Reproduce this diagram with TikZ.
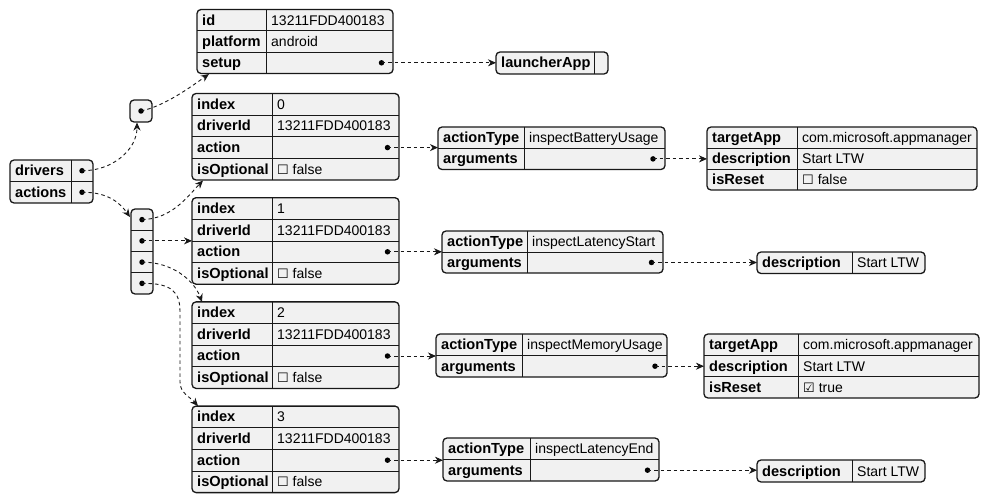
\documentclass[tikz,border=0pt]{standalone}
\usepackage{fontspec}
\setmainfont{Liberation Sans}
\newfontfamily\symfont{DejaVu Sans}
\usetikzlibrary{arrows.meta}

\definecolor{jfill}{HTML}{F1F1F1}
\definecolor{jline}{HTML}{181818}

\newcommand\boxoff{{\symfont\fontsize{13}{15}\selectfont\char"2610}}
\newcommand\boxon{{\symfont\fontsize{13}{15}\selectfont\char"2611}}

\tikzset{
  tbl/.style={draw=jline, fill=jfill, line width=1.3pt, rounded corners=4pt, inner sep=0pt, outer sep=0pt},
  sep/.style={draw=jline, line width=0.8pt},
  keytxt/.style={anchor=base west, inner sep=0pt, font=\fontsize{14.6}{16}\selectfont\bfseries, text=black},
  valtxt/.style={anchor=base west, inner sep=0pt, font=\fontsize{14}{16}\selectfont, text=black},
  pip/.style={circle, fill=black, inner sep=0pt, minimum size=5.5pt},
  link/.style={draw=jline, line width=0.9pt, dash pattern=on 3.5pt off 3pt,
    -{Stealth[length=8pt,width=7pt,inset=2.5pt]}},
}

% key/value table: name, left, top, column, right, bottom, rows, key/value list
\newcommand\jtab[8]{%
  \node[tbl, anchor=north west, minimum width={#5-#2}, minimum height={#6-#3}] (#1) at (#2,#3) {};
  \pgfmathsetmacro\jrh{(#6-#3)/#7}
  \draw[sep] (#4,#3) -- (#4,#6);
  \foreach \k/\v [count=\i] in {#8} {
    \pgfmathsetmacro\jy{#3+(\i-0.5)*\jrh}
    \ifnum\i>1 \draw[sep] (#2,{#3+(\i-1)*\jrh}) -- (#5,{#3+(\i-1)*\jrh});\fi
    \node[keytxt] (#1-k\i) at (#2+5,\jy+5) {\k};
    \node[valtxt] (#1-v\i) at (#4+5,\jy+5) {\v};
  }
}

% array box: name, left, top, right, bottom, items
\newcommand\jarr[6]{%
  \node[tbl, anchor=north west, minimum width={#4-#2}, minimum height={#5-#3}] (#1) at (#2,#3) {};
  \pgfmathsetmacro\jrh{(#5-#3)/#6}
  \foreach \i in {1,...,#6} {
    \ifnum\i>1 \draw[sep] (#2,{#3+(\i-1)*\jrh}) -- (#4,{#3+(\i-1)*\jrh});\fi
    \node[pip] (#1-d\i) at ({(#2+#4)/2},{#3+(\i-0.5)*\jrh}) {};
  }
}

\begin{document}
\begin{tikzpicture}[x=1pt,y=-1pt]
\useasboundingbox (0,0) rectangle (990,502);

% root object
\jtab{root}{10}{160}{71}{93}{203}{2}{drivers/{},actions/{}}
\node[pip] (root-d1) at (82,170.75) {};
\node[pip] (root-d2) at (82,192.25) {};

% drivers
\jarr{drv}{130}{100}{152}{122}{1}
\jtab{drv0}{197}{9.5}{266}{393}{73.5}{3}{id/13211FDD400183,platform/android,setup/{}}
\node[pip] (drv0-d3) at (381.5,62.8) {};
\jtab{app}{496}{52}{594}{608}{74}{1}{launcherApp/{}}

% actions
\jarr{acts}{131}{209}{153}{294}{4}

\jtab{a0}{192}{93.5}{272}{399}{180}{4}{index/0,driverId/13211FDD400183,action/{},isOptional/\boxoff\ false}
\node[pip] (a0-d3) at (387.5,147.6) {};
\jtab{a1}{192}{197.7}{272}{399}{284.2}{4}{index/1,driverId/13211FDD400183,action/{},isOptional/\boxoff\ false}
\node[pip] (a1-d3) at (387.5,251.8) {};
\jtab{a2}{192}{301.9}{272}{399}{388.4}{4}{index/2,driverId/13211FDD400183,action/{},isOptional/\boxoff\ false}
\node[pip] (a2-d3) at (387.5,356) {};
\jtab{a3}{192}{406.1}{272}{399}{492.6}{4}{index/3,driverId/13211FDD400183,action/{},isOptional/\boxoff\ false}
\node[pip] (a3-d3) at (387.5,460.2) {};

% action objects
\jtab{bat}{438}{127}{524}{665}{169.5}{2}{actionType/inspectBatteryUsage,arguments/{}}
\node[pip] (bat-d2) at (653,158.9) {};
\jtab{lat}{442}{231}{527}{663}{273}{2}{actionType/inspectLatencyStart,arguments/{}}
\node[pip] (lat-d2) at (651.5,262.5) {};
\jtab{mem}{436}{334}{522}{667}{377}{2}{actionType/inspectMemoryUsage,arguments/{}}
\node[pip] (mem-d2) at (655,366.2) {};
\jtab{end}{443}{438}{530}{659}{481}{2}{actionType/inspectLatencyEnd,arguments/{}}
\node[pip] (end-d2) at (647.5,470.2) {};

% argument objects
\jtab{tg0}{707}{127}{797}{977}{190}{3}{targetApp/com.microsoft.appmanager,description/Start LTW,isReset/\boxoff\ false}
\jtab{ds1}{757}{252}{852}{925}{273.5}{1}{description/Start LTW}
\jtab{tg2}{704}{334}{798}{979}{398}{3}{targetApp/com.microsoft.appmanager,description/Start LTW,isReset/\boxon\ true}
\jtab{ds3}{757}{460}{852}{925}{482}{1}{description/Start LTW}

% entry points of the curved links
\coordinate (drvIn) at (137,122.5);
\coordinate (actsIn) at (130,217);
\coordinate (drv0In) at (209,74);
\coordinate (a0In) at (203,180.5);
\coordinate (a2In) at (202,302);
\coordinate (a3In) at (198,406);

% links
\draw[link] (root-d1.center) .. controls (112,171) and (137,150) .. (drvIn);
\draw[link] (root-d2.center) .. controls (108,192) and (120,203) .. (actsIn);
\draw[link] (drv-d1.center) .. controls (165,106) and (192,86) .. (drv0In);
\draw[link] (drv0-d3.center) -- (drv0-d3.center -| app.west);

\draw[link] (acts-d1.center) .. controls (172,219) and (188,196) .. (a0In);
\draw[link] (acts-d2.center) -- (acts-d2.center -| a1.west);
\draw[link] (acts-d3.center) .. controls (172,262) and (194,280) .. (a2In);
\draw[link] (acts-d4.center) .. controls (172,283) and (180,292) .. (180,312)
  -- (180,382) .. controls (180,393) and (190,397) .. (a3In);

\draw[link] (a0-d3.center) -- (a0-d3.center -| bat.west);
\draw[link] (a1-d3.center) -- (a1-d3.center -| lat.west);
\draw[link] (a2-d3.center) -- (a2-d3.center -| mem.west);
\draw[link] (a3-d3.center) -- (a3-d3.center -| end.west);

\draw[link] (bat-d2.center) -- (bat-d2.center -| tg0.west);
\draw[link] (lat-d2.center) -- (lat-d2.center -| ds1.west);
\draw[link] (mem-d2.center) -- (mem-d2.center -| tg2.west);
\draw[link] (end-d2.center) -- (end-d2.center -| ds3.west);
\end{tikzpicture}
\end{document}
